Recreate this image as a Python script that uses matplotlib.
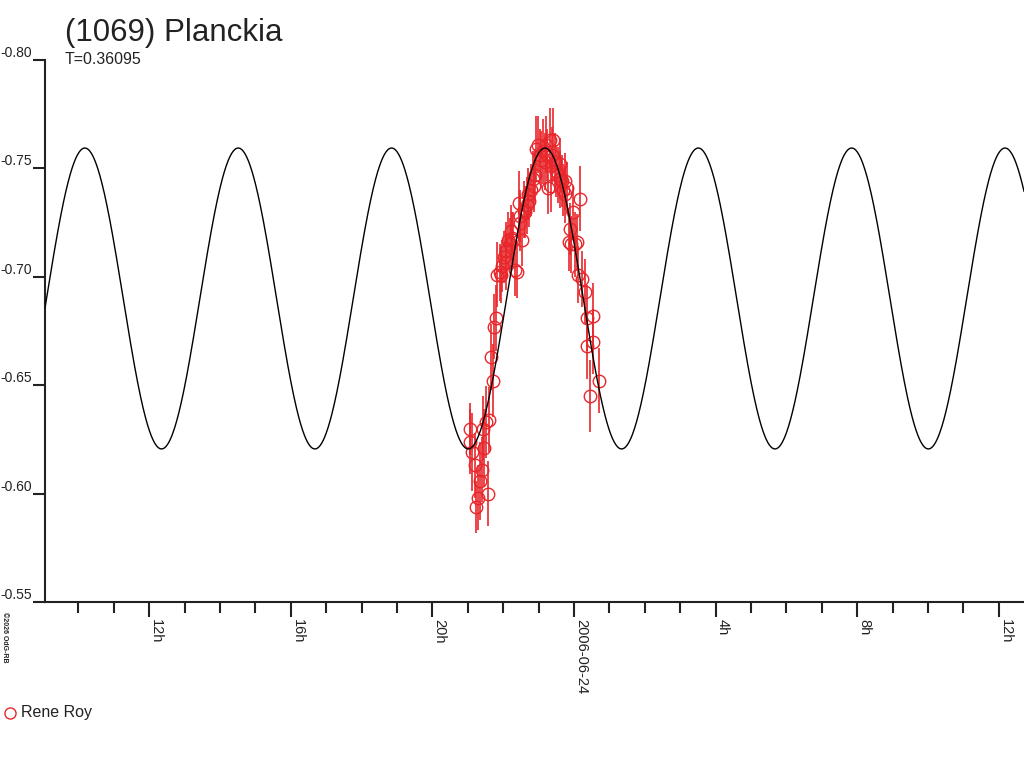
import numpy as np
import matplotlib
matplotlib.use("Agg")
import matplotlib.pyplot as plt

plt.rcParams['font.family'] = ['Liberation Sans', 'DejaVu Sans']

# Lightcurve model (fit), hours relative to 2006-06-24 00:00
period_days = 0.36095
mean_mag = -0.690
amp_mag = 0.0694
t_peak = -0.82

# Observations (Rene Roy): time in hours from 2006-06-24 0h, relative mag, error
obs_t = [-2.938, -2.938, -2.881, -2.797, -2.768, -2.712, -2.655, -2.599, -2.571, -2.542,
         -2.486, -2.429, -2.401, -2.345, -2.288, -2.260, -2.203, -2.175, -2.090, -2.034,
         -1.977, -1.921, -1.864, -1.808, -1.780, -1.723, -1.667, -1.610, -1.554, -1.525,
         -1.469, -1.412, -1.384, -1.328, -1.271, -1.215, -1.158, -1.102, -1.073, -1.017,
         -0.960, -0.932, -0.876, -0.819, -0.763, -0.734, -0.678, -0.650, -0.593, -0.537,
         -0.508, -0.452, -0.395, -0.339, -0.311, -0.254, -0.198, -0.141, -0.085, -0.028,
         0.028, 0.085, 0.113, 0.169, 0.226, 0.311, 0.367, 0.367, 0.452, 0.537,
         0.537, 0.706, -0.791, -0.621, -1.130, -1.299, -1.525, -1.751, -1.921, -2.062,
         -0.254, -0.113, -0.395]
obs_mag = [-0.630, -0.624, -0.619, -0.613, -0.594, -0.598, -0.606, -0.611, -0.630, -0.621,
           -0.633, -0.600, -0.634, -0.663, -0.652, -0.677, -0.681, -0.701, -0.702, -0.705,
           -0.709, -0.712, -0.717, -0.715, -0.721, -0.717, -0.703, -0.702, -0.734, -0.728,
           -0.717, -0.731, -0.730, -0.733, -0.735, -0.740, -0.745, -0.747, -0.759, -0.761,
           -0.756, -0.754, -0.758, -0.753, -0.756, -0.741, -0.763, -0.742, -0.763, -0.753,
           -0.749, -0.747, -0.745, -0.744, -0.740, -0.744, -0.741, -0.716, -0.715, -0.730,
           -0.715, -0.716, -0.701, -0.736, -0.699, -0.693, -0.681, -0.668, -0.645, -0.682,
           -0.670, -0.652, -0.761, -0.756, -0.742, -0.738, -0.725, -0.718, -0.707, -0.701,
           -0.738, -0.722, -0.752]
obs_err = [0.0120, 0.0150, 0.0180, 0.0150, 0.0120, 0.0150, 0.0180, 0.0150, 0.0150, 0.0180,
           0.0168, 0.0150, 0.0150, 0.0150, 0.0168, 0.0150, 0.0150, 0.0150, 0.0131, 0.0120,
           0.0120, 0.0131, 0.0131, 0.0120, 0.0120, 0.0131, 0.0120, 0.0120, 0.0150, 0.0120,
           0.0120, 0.0131, 0.0120, 0.0131, 0.0120, 0.0120, 0.0131, 0.0120, 0.0150, 0.0131,
           0.0120, 0.0131, 0.0150, 0.0131, 0.0120, 0.0120, 0.0150, 0.0120, 0.0150, 0.0131,
           0.0120, 0.0131, 0.0131, 0.0120, 0.0120, 0.0131, 0.0120, 0.0131, 0.0131, 0.0120,
           0.0150, 0.0131, 0.0131, 0.0150, 0.0131, 0.0150, 0.0150, 0.0150, 0.0168, 0.0150,
           0.0150, 0.0150, 0.0131, 0.0131, 0.0120, 0.0120, 0.0131, 0.0120, 0.0131, 0.0131,
           0.0131, 0.0120, 0.0120]

tick_hours = [-12, -8, -4, 0, 4, 8, 12]
tick_labels = ['12h', '16h', '20h', '2006-06-24', '4h', '8h', '12h']
y_ticks = [-0.80, -0.75, -0.70, -0.65, -0.60, -0.55]

red = '#e8262b'
ink = '#222222'

fig = plt.figure(figsize=(10.24, 7.68), dpi=100)
ax = fig.add_axes([45 / 1024, 166 / 768, 979 / 1024, 542 / 768])

# model curve
t = np.linspace(-14.94, 12.71, 2000)
half_p = period_days * 24 / 2
model = mean_mag - amp_mag * np.cos(2 * np.pi * (t - t_peak) / half_p)

ax.errorbar(obs_t, obs_mag, yerr=obs_err, fmt='o', ms=9, mfc='none', mec=red,
            mew=1.0, ecolor=red, elinewidth=1.2, capsize=0, zorder=2)
ax.plot(t, model, color='black', lw=1.0, zorder=3)

ax.set_xlim(-14.94, 12.71)
ax.set_ylim(-0.55, -0.80)

for s in ['top', 'right']:
    ax.spines[s].set_visible(False)
for s in ['left', 'bottom']:
    ax.spines[s].set_linewidth(1.5)
    ax.spines[s].set_color(ink)

ax.set_xticks(tick_hours)
ax.set_xticklabels(tick_labels, rotation=270, ha='left', va='top', fontsize=10.5, color=ink)
ax.set_xticks(np.arange(-14, 13, 1), minor=True)
ax.tick_params(axis='x', which='major', direction='out', length=11, width=1.5, pad=1, colors=ink)
ax.tick_params(axis='x', which='minor', direction='out', length=8, width=1.5, colors=ink)

ax.set_yticks(y_ticks)
ax.set_yticklabels(['%.2f' % v for v in y_ticks], fontsize=10, color=ink)
ax.tick_params(axis='y', which='major', direction='out', length=9, width=1.5, pad=0.5, colors=ink)
for lab in ax.get_yticklabels():
    lab.set_verticalalignment('bottom')

fig.text(65 / 1024, 1 - 41 / 768, '(1069) Planckia', fontsize=22.5, color=ink)
fig.text(65 / 1024, 1 - 64 / 768, 'T=0.36095', fontsize=11.5, color=ink)

# legend
fig.add_artist(plt.Line2D([10 / 1024], [1 - 713 / 768], marker='o', ms=8, mfc='none', mec=red, mew=1.0))
fig.text(21 / 1024, 1 - 713 / 768, 'Rene Roy', fontsize=11.5, color=ink, va='center')

fig.text(1 / 1024, 1 - 612 / 768, '\u00a92026 OdG-RB', fontsize=5, rotation=270, ha='left', va='top',
         fontweight='bold', color=ink)

fig.savefig('out.png', dpi=100)
